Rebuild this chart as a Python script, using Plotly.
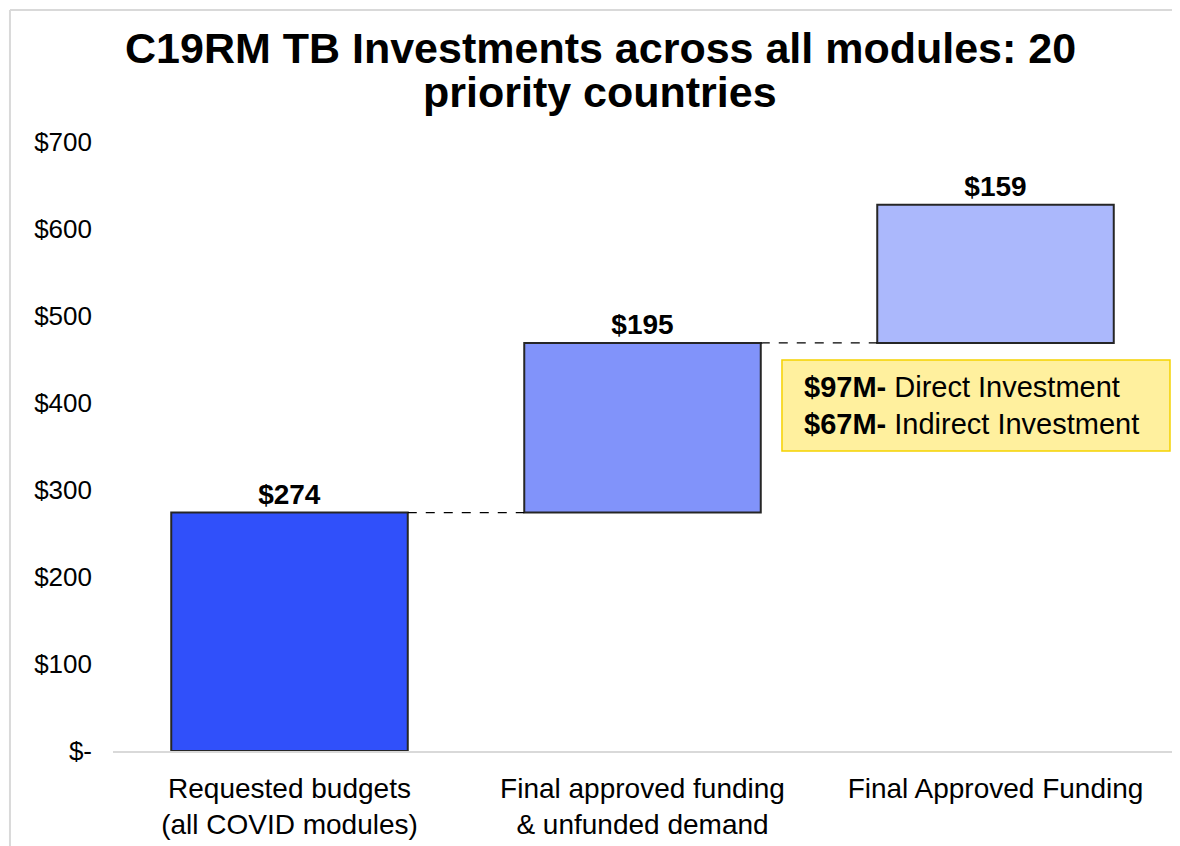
import plotly.graph_objects as go

categories = ["Requested budgets<br>(all COVID modules)",
              "Final approved funding<br>& unfunded demand",
              "Final Approved Funding"]
increments = [274, 195, 159]
bar_labels = ["$274", "$195", "$159"]
bar_colors = ["#3050FA", "#8193FA", "#ABB8FC"]
y_ticks = [0, 100, 200, 300, 400, 500, 600, 700]
y_tick_labels = ["$-", "$100", "$200", "$300", "$400", "$500", "$600", "$700"]
title_lines = ["C19RM TB Investments across all modules: 20", "priority countries"]
note_lines = ["<b>$97M-</b> Direct Investment", "<b>$67M-</b> Indirect Investment"]

bases = []
running = 0
for v in increments:
    bases.append(running)
    running += v
tops = [b + v for b, v in zip(bases, increments)]

FONT = "Liberation Sans, Arial, sans-serif"
BW = 0.67
xs = list(range(len(categories)))

fig = go.Figure()
fig.add_trace(go.Bar(
    x=xs, y=increments, base=bases, width=BW,
    marker=dict(color=bar_colors, line=dict(color="#262626", width=2)),
    text=[f"<b>{t}</b>" for t in bar_labels], textposition="outside",
    textfont=dict(family=FONT, size=28, color="#000000"),
    cliponaxis=False, showlegend=False, hoverinfo="skip",
))

shapes = []
for i in range(len(categories) - 1):
    shapes.append(dict(type="line", xref="x", yref="y",
                       x0=xs[i] + BW / 2, x1=xs[i + 1] - BW / 2,
                       y0=tops[i], y1=tops[i],
                       line=dict(color="#000000", width=1.3, dash="dash")))
# outer frame lines (partial border of original image)
shapes.append(dict(type="line", xref="paper", yref="paper",
                   x0=-0.0973, x1=1.05, y0=1.2167, y1=1.2167,
                   line=dict(color="#D9D9D9", width=2)))
shapes.append(dict(type="line", xref="paper", yref="paper",
                   x0=-0.0973, x1=-0.0973, y0=-0.3, y1=1.2167,
                   line=dict(color="#D9D9D9", width=2)))
# note box
shapes.append(dict(type="rect", xref="paper", yref="y",
                   x0=0.6317, x1=0.9981, y0=344.8, y1=449.4,
                   fillcolor="#FFF09E", line=dict(color="#F5D200", width=1.5),
                   layer="above"))

annotations = []
for txt, yy in zip(title_lines, [1.1544, 1.0821]):
    annotations.append(dict(xref="paper", yref="paper", x=0.4599, y=yy,
                            xanchor="center", yanchor="middle", showarrow=False,
                            text=f"<b>{txt}</b>",
                            font=dict(family=FONT, size=43, color="#000000")))
for txt, yy in zip(note_lines, [418.4, 375.9]):
    annotations.append(dict(xref="paper", yref="y", x=0.6506, y=yy,
                            xanchor="left", yanchor="middle", showarrow=False,
                            text=txt, align="left",
                            font=dict(family=FONT, size=29, color="#000000")))

fig.update_layout(
    width=1180, height=846,
    margin=dict(l=105, r=16, t=134, b=103),
    paper_bgcolor="#FFFFFF", plot_bgcolor="#FFFFFF",
    font=dict(family=FONT, color="#000000"),
    bargap=0.33,
    shapes=shapes,
    annotations=annotations,
)
fig.update_xaxes(tickmode="array", tickvals=xs, ticktext=categories,
                 range=[-0.5, 2.5], showline=True, linecolor="#D9D9D9", linewidth=2,
                 ticks="", showgrid=False, zeroline=False,
                 tickfont=dict(family=FONT, size=28, color="#000000"),
                 ticklabelstandoff=11)
fig.update_yaxes(tickmode="array", tickvals=y_ticks, ticktext=y_tick_labels,
                 range=[0, 700], showgrid=False, zeroline=False, showline=False,
                 ticks="", tickfont=dict(family=FONT, size=26, color="#000000"),
                 ticklabelstandoff=20)

fig.write_html("out.html")
